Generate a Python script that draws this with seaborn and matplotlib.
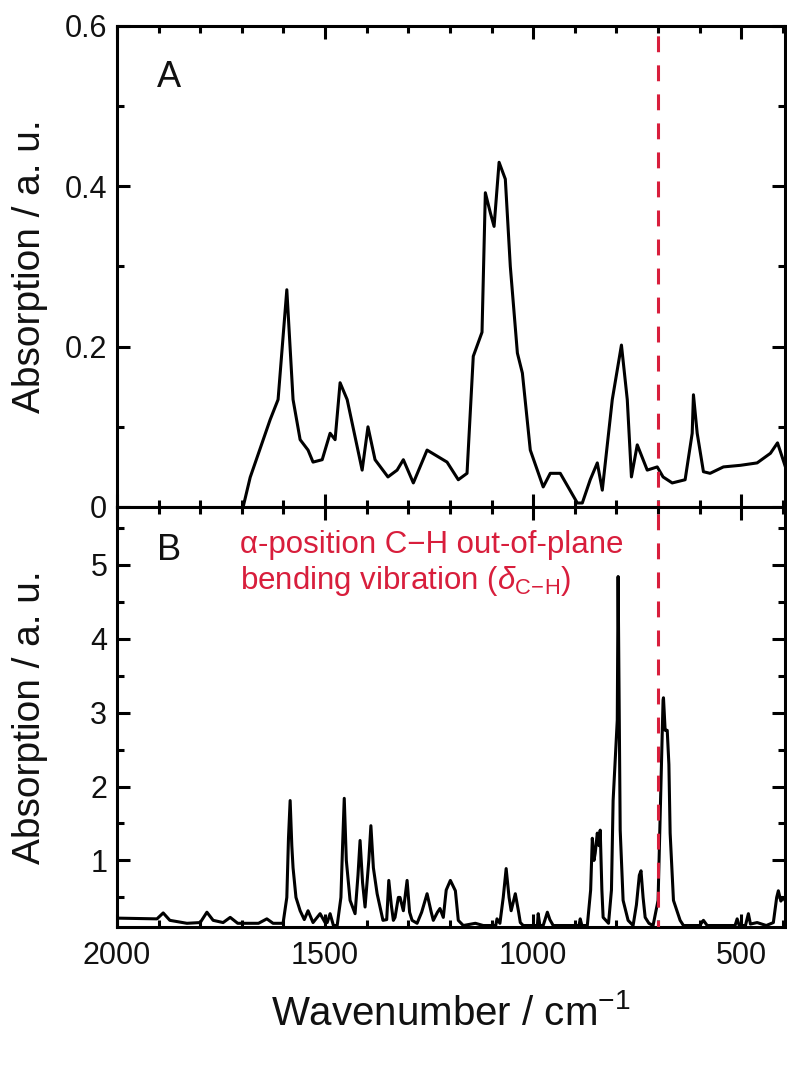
import numpy as np
import pandas as pd
import matplotlib
matplotlib.use("Agg")
import matplotlib.pyplot as plt
from matplotlib.ticker import MultipleLocator, FuncFormatter
import seaborn as sns

# ---------------- data ----------------
wn_A = [1697, 1680, 1632, 1613, 1592, 1577, 1560, 1541, 1529, 1507, 1488, 1476,
        1464, 1447, 1411, 1397, 1380, 1349, 1327, 1312, 1288, 1255, 1207, 1180,
        1159, 1144, 1123, 1115, 1103, 1094, 1082, 1067, 1055, 1038, 1026, 1007,
        976, 959, 935, 894, 882, 863, 846, 834, 810, 788, 774, 764, 750, 726,
        702, 688, 666, 635, 618, 615, 606, 591, 575, 543, 502, 462, 430, 413, 394]
abs_A = [0.0, 0.037, 0.109, 0.134, 0.271, 0.134, 0.084, 0.071, 0.056, 0.059, 0.092, 0.084,
         0.155, 0.134, 0.046, 0.100, 0.059, 0.0375, 0.046, 0.059, 0.030, 0.071, 0.056, 0.034,
         0.042, 0.188, 0.218, 0.392, 0.367, 0.350, 0.430, 0.409, 0.300, 0.192, 0.167, 0.071,
         0.025, 0.042, 0.042, 0.005, 0.005, 0.034, 0.055, 0.021, 0.134, 0.202, 0.134, 0.0375, 0.0775, 0.046,
         0.050, 0.0375, 0.030, 0.034, 0.092, 0.140, 0.092, 0.044, 0.042, 0.050, 0.052, 0.055, 0.067, 0.080, 0.050]

wn_B = [2000, 1904, 1889, 1873, 1832, 1800, 1784, 1769, 1745, 1728, 1710, 1697,
        1660, 1640, 1625, 1601, 1592, 1588, 1584, 1580, 1577, 1570, 1560, 1550,
        1541, 1529, 1512, 1500, 1495, 1488, 1480, 1471, 1462, 1458, 1454, 1449,
        1440, 1428, 1421, 1416, 1410, 1404, 1395, 1390, 1384, 1375, 1361, 1352,
        1347, 1341, 1336, 1332, 1324, 1320, 1312, 1303, 1297, 1291, 1279, 1268,
        1255, 1245, 1240, 1230, 1224, 1216, 1209, 1199, 1187, 1180, 1168, 1139,
        1120, 1090, 1087, 1080, 1072, 1065, 1058, 1053, 1043, 1035, 1031, 1024,
        990, 988, 984, 976, 966, 960, 952, 890, 887, 883, 870, 862, 858, 854,
        851, 846, 842, 839, 835, 832, 819, 812, 808, 798, 796, 791, 784, 772,
        760, 752, 745, 741, 736, 731, 722, 712, 700, 693, 688, 687, 683, 678,
        674, 671, 663, 647, 639, 600, 591, 582, 515, 510, 505, 490, 483, 478,
        462, 440, 423, 415, 411, 405, 399, 394]
abs_B = [0.22, 0.21, 0.29, 0.19, 0.15, 0.16, 0.30, 0.19, 0.16, 0.23, 0.15, 0.15,
         0.15, 0.21, 0.15, 0.15, 0.50, 1.30, 1.81, 1.20, 0.90, 0.50, 0.32, 0.20,
         0.32, 0.16, 0.28, 0.16, 0.16, 0.28, 0.12, 0.12, 0.50, 1.20, 1.84, 1.00,
         0.46, 0.28, 0.80, 1.27, 0.70, 0.37, 1.00, 1.47, 0.90, 0.55, 0.19, 0.20,
         0.73, 0.40, 0.19, 0.23, 0.50, 0.50, 0.32, 0.73, 0.30, 0.19, 0.15, 0.30,
         0.55, 0.30, 0.19, 0.30, 0.35, 0.23, 0.60, 0.73, 0.59, 0.19, 0.12, 0.15,
         0.12, 0.12, 0.21, 0.15, 0.50, 0.89, 0.50, 0.32, 0.55, 0.30, 0.16, 0.12,
         0.12, 0.28, 0.12, 0.12, 0.30, 0.20, 0.12, 0.12, 0.21, 0.12, 0.12, 0.60, 1.30, 1.00,
         1.10, 1.37, 1.20, 1.41, 0.60, 0.23, 0.15, 0.60, 1.81, 2.90, 4.84, 1.41, 0.46, 0.19,
         0.12, 0.40, 0.80, 0.86, 0.50, 0.23, 0.15, 0.12, 0.46, 2.04, 3.17, 3.20, 2.76, 2.76,
         2.30, 1.37, 0.46, 0.19, 0.12, 0.12, 0.19, 0.12, 0.12, 0.21, 0.12, 0.12, 0.28, 0.14,
         0.16, 0.12, 0.16, 0.50, 0.59, 0.45, 0.50, 0.45]

marker_wn = 700
panel_labels = ["A", "B"]
ann_line1 = "α-position C−H out-of-plane"
ann_line2 = r"bending vibration ($\delta_{\mathrm{C\!-\!H}}$)"
xlabel = r"Wavenumber / cm$^{-1}$"
ylabel = "Absorption / a. u."

# ---------------- style ----------------
sns.set_style("ticks")
plt.rcParams["font.family"] = ["Liberation Sans", "DejaVu Sans"]
plt.rcParams["mathtext.fontset"] = "custom"
plt.rcParams["mathtext.rm"] = "Liberation Sans"
plt.rcParams["mathtext.it"] = "Liberation Sans:italic"
plt.rcParams["mathtext.bf"] = "Liberation Sans:bold"
plt.rcParams["axes.linewidth"] = 2.2
plt.rcParams["text.color"] = "#111111"
plt.rcParams["axes.labelcolor"] = "#111111"
plt.rcParams["xtick.labelcolor"] = "#111111"
plt.rcParams["ytick.labelcolor"] = "#111111"

RED = "#d81e3c"
LW = 2.2

dfA = pd.DataFrame({"wn": wn_A, "abs": abs_A})
dfB = pd.DataFrame({"wn": wn_B, "abs": abs_B})

fig = plt.figure(figsize=(7.87, 10.8), dpi=100)
axA = fig.add_axes([0.14867, 0.53056, 0.8488, 0.44537])
axB = fig.add_axes([0.14867, 0.14167, 0.8488, 0.38889])

sns.lineplot(data=dfA, x="wn", y="abs", ax=axA, color="black", lw=LW,
             estimator=None, sort=False)
sns.lineplot(data=dfB, x="wn", y="abs", ax=axB, color="black", lw=LW,
             estimator=None, sort=False)

for ax in (axA, axB):
    ax.set_xlim(2000, 395)
    ax.xaxis.set_major_locator(MultipleLocator(500))
    ax.xaxis.set_minor_locator(MultipleLocator(100))
    ax.tick_params(which="both", direction="in", top=True, right=True,
                   width=2.2, labelsize=22, color="black")
    ax.tick_params(which="major", length=9.5, pad=7)
    ax.tick_params(which="minor", length=5)
    ax.tick_params(axis="x", which="major", pad=10)
    for s in ax.spines.values():
        s.set_linewidth(2.2)
        s.set_color("black")
    ax.axvline(marker_wn, color=RED, lw=LW, linestyle=(3, (5.2, 4.3)), zorder=3)
    ax.set_ylabel(ylabel, fontsize=28)
    ax.yaxis.set_label_coords(-0.104, 0.5)

axA.set_ylim(0, 0.6)
axA.yaxis.set_major_locator(MultipleLocator(0.2))
axA.yaxis.set_minor_locator(MultipleLocator(0.1))
axA.yaxis.set_major_formatter(FuncFormatter(lambda v, p: "0" if abs(v) < 1e-9 else f"{v:.1f}"))
axA.tick_params(axis="x", labelbottom=False)
axA.set_xlabel("")

axB.set_ylim(0.1, 5.78)
axB.yaxis.set_major_locator(MultipleLocator(1))
axB.yaxis.set_minor_locator(MultipleLocator(0.5))
axB.set_yticks([1, 2, 3, 4, 5])
axB.set_xlabel(xlabel, fontsize=29)
axB.xaxis.set_label_coords(0.5, -0.16)

axA.text(0.06, 0.873, panel_labels[0], transform=axA.transAxes, fontsize=26,
         ha="left", va="baseline")
axB.text(0.06, 0.874, panel_labels[1], transform=axB.transAxes, fontsize=26,
         ha="left", va="baseline")
axB.text(0.184, 0.890, ann_line1, transform=axB.transAxes, fontsize=22.5,
         color=RED, ha="left", va="baseline")
axB.text(0.184, 0.805, ann_line2, transform=axB.transAxes, fontsize=22.5,
         color=RED, ha="left", va="baseline")

fig.savefig("out.png", dpi=100)
